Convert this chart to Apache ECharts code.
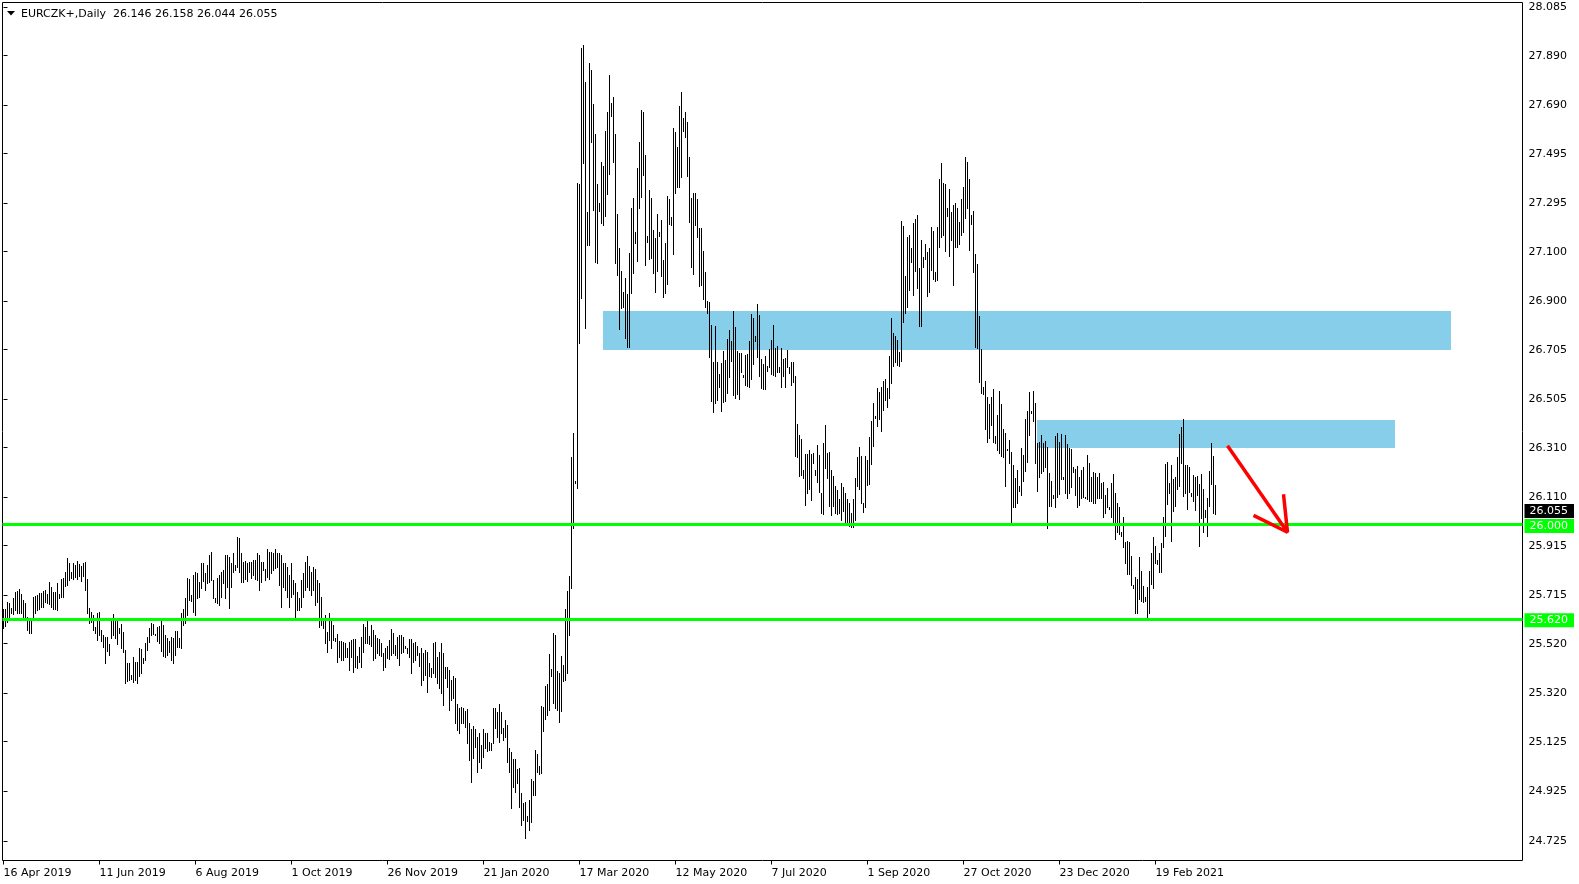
<!DOCTYPE html>
<html><head><meta charset="utf-8">
<script src="https://cdn.jsdelivr.net/npm/echarts@6/dist/echarts.min.js"></script>
<style>html,body{margin:0;padding:0;background:#fff}#c{width:1579px;height:884px}</style>
</head><body><div id="c"></div>
<script>
const symbolTitle = 'EURCZK+,Daily';
const lastOHLC = [26.146, 26.158, 26.044, 26.055];
const dateLabels = ['16 Apr 2019','11 Jun 2019','6 Aug 2019','1 Oct 2019','26 Nov 2019','21 Jan 2020','17 Mar 2020','12 May 2020','7 Jul 2020','1 Sep 2020','27 Oct 2020','23 Dec 2020','19 Feb 2021'];
const dateLabelBars = [0,48,96,144,192,240,288,336,384,432,480,528,576];
const priceTicks = [28.085,27.890,27.690,27.495,27.295,27.100,26.900,26.705,26.505,26.310,26.110,25.915,25.715,25.520,25.320,25.125,24.925,24.725];

const highs = [
25.658,25.658,25.689,25.685,25.662,25.705,25.730,25.734,25.740,25.720,
25.696,25.683,25.629,25.622,25.622,25.707,25.712,25.716,25.723,25.725,
25.734,25.736,25.720,25.769,25.750,25.730,25.730,25.763,25.720,25.779,
25.783,25.810,25.864,25.847,25.810,25.844,25.837,25.855,25.841,25.833,
25.847,25.851,25.779,25.662,25.649,25.636,25.586,25.642,25.649,25.575,
25.555,25.548,25.548,25.519,25.615,25.638,25.615,25.618,25.582,25.598,
25.568,25.495,25.443,25.441,25.394,25.468,25.447,25.447,25.501,25.497,
25.461,25.521,25.548,25.582,25.605,25.599,25.559,25.589,25.591,25.611,
25.595,25.555,25.541,25.532,25.548,25.541,25.572,25.572,25.541,25.642,
25.658,25.703,25.783,25.779,25.716,25.797,25.810,25.804,25.770,25.844,
25.844,25.804,25.837,25.877,25.891,25.777,25.703,25.783,25.797,25.810,
25.817,25.877,25.877,25.871,25.844,25.884,25.837,25.951,25.945,25.884,
25.851,25.855,25.844,25.851,25.851,25.857,25.857,25.887,25.877,25.851,
25.851,25.820,25.900,25.891,25.891,25.887,25.900,25.887,25.884,25.877,
25.844,25.844,25.830,25.797,25.844,25.777,25.766,25.730,25.703,
25.777,25.804,25.851,25.874,25.833,25.810,25.831,25.820,25.777,25.766,
25.710,25.616,25.636,25.569,25.645,25.616,25.595,25.542,25.559,25.532,
25.532,25.528,25.521,25.501,25.528,25.535,25.538,25.538,25.470,25.508,
25.548,25.599,25.586,25.616,25.551,25.595,25.575,25.555,25.542,25.538,
25.524,25.481,25.501,25.511,25.535,25.578,25.564,25.515,25.548,25.555,
25.555,25.548,25.511,25.501,25.538,25.538,25.521,25.525,25.511,25.481,
25.501,25.481,25.495,25.488,25.441,25.422,25.521,25.528,25.468,25.486,
25.521,25.481,25.425,25.427,25.414,25.374,25.390,25.382,25.277,25.260,
25.266,25.262,25.250,25.255,25.199,25.175,25.188,25.175,25.145,25.159,
25.112,25.175,25.159,25.159,25.125,25.121,25.260,
25.259,25.246,25.277,25.246,25.179,25.212,25.192,25.098,25.085,25.054,
25.054,25.013,25.017,24.917,24.879,24.883,24.825,24.890,24.973,24.967,
25.091,25.075,25.027,25.269,25.266,25.349,25.357,25.478,25.417,25.562,
25.555,25.411,25.403,25.470,25.434,25.658,25.734,25.793,26.274,26.371,26.176,
27.375,27.373,27.920,27.933,27.785,27.261,27.862,27.832,27.695,27.574,
27.373,27.298,27.463,27.445,27.588,27.664,27.812,27.701,27.725,27.574,
27.252,27.114,27.023,26.939,26.993,26.929,27.093,27.275,27.315,27.181,
27.436,27.543,27.671,27.664,27.490,27.163,27.349,27.315,27.187,27.154,
27.252,27.181,27.228,27.066,27.134,27.325,27.311,27.238,27.597,27.584,
27.523,27.687,27.745,27.638,27.664,27.624,27.483,27.315,27.335,27.338,
27.311,27.194,27.194,27.104,27.019,26.903,26.899,
26.804,26.657,26.800,26.657,26.607,26.650,26.701,26.663,26.747,26.784,
26.741,26.862,26.795,26.701,26.693,26.690,26.603,26.683,26.688,26.741,
26.849,26.833,26.760,26.889,26.845,26.666,26.647,26.680,26.639,26.706,
26.744,26.804,26.710,26.720,26.634,26.710,26.666,26.670,26.704,26.636,
26.657,26.657,26.599,26.405,26.361,26.344,26.220,26.284,26.284,26.301,
26.284,26.287,26.220,26.321,26.280,26.129,26.327,26.401,26.290,26.294,
26.220,26.196,26.155,26.139,26.102,26.169,26.150,26.129,26.102,26.086,
26.045,26.102,26.186,26.271,26.314,26.277,26.088,26.277,26.260,26.354,
26.419,26.491,26.438,26.549,26.536,
26.553,26.580,26.585,26.549,26.679,26.831,26.773,26.760,26.744,26.697,
27.225,27.203,27.002,27.158,27.167,27.113,27.217,27.230,27.248,27.033,
27.147,27.077,27.131,27.100,27.113,27.198,27.185,27.019,27.198,27.392,
27.459,27.378,27.373,27.275,27.351,27.261,27.288,27.297,27.275,27.221,
27.311,27.362,27.483,27.463,27.392,27.248,27.265,27.091,27.050,26.841,
26.706,26.553,26.580,26.516,26.486,26.516,26.545,26.357,26.442,26.540,
26.486,26.384,26.368,26.303,26.341,
26.294,26.240,26.186,26.220,26.156,26.307,26.280,26.424,26.459,26.534,
26.458,26.538,26.491,26.330,26.334,26.361,26.330,26.338,26.311,26.209,
26.177,26.119,26.357,26.371,26.334,26.365,26.190,26.361,26.325,26.307,
26.303,26.231,26.223,26.236,26.193,26.220,26.231,26.113,26.280,26.247,
26.193,26.213,26.209,26.190,26.207,26.169,26.173,26.119,26.146,26.070,
26.169,26.204,26.129,26.088,26.072,25.971,26.029,25.931,25.935,25.931,
25.873,25.757,25.790,25.779,25.871,25.814,25.752,25.707,25.747,25.814,
25.887,25.951,25.914,25.857,25.887,25.927,26.032,26.244,26.254,26.169,
26.240,26.182,26.190,26.271,26.365,26.395,26.424,26.240,26.240,26.233,
26.129,26.200,26.193,26.196,26.164,26.204,26.142,26.059,26.106,26.217,
26.330,26.276,26.158
];

const lows = [
25.582,25.591,25.609,25.629,25.642,25.638,25.656,25.645,25.645,25.642,
25.622,25.629,25.575,25.562,25.562,25.615,25.645,25.656,25.658,25.666,
25.666,25.689,25.685,25.680,25.666,25.658,25.658,25.656,25.703,25.707,
25.709,25.752,25.757,25.777,25.783,25.779,25.790,25.779,25.793,25.774,
25.793,25.736,25.645,25.602,25.609,25.575,25.562,25.535,25.555,25.532,
25.505,25.441,25.492,25.474,25.541,25.555,25.541,25.519,25.562,25.501,
25.488,25.363,25.371,25.374,25.376,25.367,25.374,25.360,25.390,25.403,
25.443,25.454,25.495,25.528,25.555,25.559,25.555,25.532,25.524,25.492,
25.470,25.468,25.474,25.488,25.454,25.441,25.474,25.508,25.505,25.501,
25.595,25.602,25.636,25.696,25.693,25.649,25.636,25.703,25.709,25.743,
25.774,25.736,25.763,25.770,25.777,25.703,25.689,25.683,25.676,25.709,
25.763,25.703,25.750,25.662,25.750,25.810,25.817,25.830,25.810,25.770,
25.770,25.779,25.774,25.810,25.783,25.797,25.779,25.777,25.736,25.770,
25.817,25.777,25.790,25.779,25.804,25.817,25.824,25.830,25.757,25.669,
25.750,25.736,25.709,25.669,25.707,25.720,25.622,25.656,25.656,
25.669,25.710,25.736,25.750,25.736,25.716,25.736,25.676,25.689,25.589,
25.595,25.582,25.524,25.488,25.535,25.501,25.535,25.532,25.448,25.468,
25.454,25.454,25.468,25.468,25.414,25.468,25.407,25.427,25.421,25.448,
25.425,25.488,25.521,25.521,25.519,25.511,25.454,25.461,25.481,25.474,
25.470,25.414,25.425,25.461,25.457,25.474,25.481,25.474,25.461,25.434,
25.481,25.488,25.501,25.481,25.468,25.400,25.448,25.454,25.474,25.430,
25.354,25.374,25.394,25.327,25.390,25.384,25.400,25.387,25.360,25.340,
25.320,25.273,25.380,25.347,25.253,25.293,25.300,25.202,25.172,25.159,
25.202,25.199,25.186,25.121,25.051,24.964,25.058,25.105,25.004,25.045,
25.018,25.065,25.098,25.089,25.092,25.092,25.121,
25.179,25.145,25.125,25.159,25.132,25.145,25.044,25.004,24.856,24.944,
24.923,24.960,24.863,24.789,24.809,24.735,24.807,24.769,24.803,24.910,
24.910,25.004,24.995,24.997,25.169,25.215,25.233,25.253,25.390,25.280,
25.259,25.253,25.206,25.250,25.371,25.374,25.403,25.555,25.743,25.988,26.166,
26.149,26.731,26.915,27.459,26.794,27.127,27.127,27.543,27.268,27.060,
27.053,27.265,27.217,27.208,27.244,27.332,27.413,27.647,27.463,27.056,
27.006,26.787,26.872,26.878,26.751,26.717,26.714,26.932,27.015,27.134,
27.064,27.275,27.319,27.409,27.046,27.140,27.069,27.073,27.015,26.939,
27.023,27.163,27.002,26.916,26.935,26.970,27.212,27.208,27.091,27.338,
27.362,27.362,27.402,27.588,27.561,27.405,27.221,27.040,27.010,27.208,
27.161,26.962,26.966,26.908,26.876,26.854,26.676,
26.499,26.455,26.491,26.502,26.556,26.459,26.495,26.499,26.529,26.593,
26.661,26.522,26.509,26.526,26.505,26.615,26.593,26.563,26.559,26.556,
26.585,26.647,26.741,26.677,26.599,26.549,26.545,26.545,26.620,26.634,
26.607,26.603,26.599,26.616,26.616,26.556,26.599,26.556,26.634,26.612,
26.563,26.576,26.276,26.271,26.196,26.200,26.186,26.079,26.126,26.142,
26.099,26.247,26.200,26.173,26.133,26.048,26.043,26.227,26.186,26.075,
26.039,26.075,26.048,26.043,26.048,26.018,26.056,26.008,26.005,25.994,
25.989,25.989,26.018,26.155,26.142,26.088,26.052,26.072,26.160,26.164,
26.244,26.317,26.428,26.397,26.424,
26.378,26.462,26.502,26.475,26.509,26.572,26.639,26.657,26.643,26.639,
26.661,26.818,26.851,26.878,26.946,27.060,26.925,27.023,26.952,26.800,
26.800,27.037,27.069,26.921,26.939,27.026,26.988,26.983,26.986,27.120,
27.158,27.167,27.104,27.244,27.083,27.147,26.966,27.117,27.117,27.131,
27.167,27.181,27.234,27.275,27.107,27.212,27.019,26.717,26.710,26.576,
26.532,26.526,26.384,26.334,26.348,26.401,26.334,26.327,26.301,26.287,
26.276,26.271,26.155,26.300,26.247,
25.998,26.070,26.070,26.088,26.137,26.119,26.177,26.217,26.254,26.361,
26.451,26.419,26.250,26.137,26.193,26.209,26.217,26.231,25.985,26.075,
26.075,26.106,26.070,26.113,26.123,26.182,26.182,26.126,26.106,26.129,
26.150,26.213,26.119,26.070,26.079,26.106,26.110,26.106,26.102,26.096,
26.096,26.086,26.088,26.106,26.106,26.106,26.032,26.045,26.070,26.061,
26.029,26.002,25.941,25.971,25.962,25.954,25.911,25.846,25.801,25.801,
25.757,25.743,25.645,25.645,25.699,25.693,25.689,25.693,25.622,25.645,
25.761,25.743,25.846,25.841,25.810,25.810,25.911,25.954,26.083,26.126,
25.935,26.056,26.075,26.142,26.155,26.250,26.115,26.129,26.061,26.133,
26.115,26.096,26.059,26.119,25.914,26.025,25.971,26.029,25.954,26.075,
26.164,26.048,26.044
];

const levels = [26.000, 25.620];
const lastPrice = 26.055;
// zones: [startBar, endBar, lowPrice, highPrice]
const zones = [[300, 724, 26.705, 26.861], [517, 696, 26.310, 26.422]];
const arrowShaft = [[612, 26.318], [642, 25.969]];
const arrowHead = [[625, 26.037], [642, 25.969], [640, 26.122]];

const FONT = 'DejaVu Sans';
const barData = highs.map((h, i) => [i, h, lows[i]]);

const chart = echarts.init(document.getElementById('c'), null, {renderer: 'canvas'});
const labelStyle = (bg, val, dy) => ({
  show: true, position: 'end', distance: 2, offset: [0, dy],
  formatter: () => val.toFixed(3),
  color: '#fff', backgroundColor: bg, padding: [2, 6, 0, 5],
  fontFamily: FONT, fontSize: 11, lineHeight: 12
});

chart.setOption({
  animation: false,
  backgroundColor: '#fff',
  grid: {left: 2.5, right: 56.5, top: 2.5, bottom: 23.5, show: true, borderColor: '#000', borderWidth: 1, backgroundColor: 'transparent'},
  xAxis: {
    type: 'value', min: -0.5, max: 759.5,
    axisLine: {show: false}, splitLine: {show: false},
    axisTick: {show: true, customValues: dateLabelBars, length: 4, lineStyle: {color: '#000'}},
    axisLabel: {customValues: dateLabelBars, formatter: v => dateLabels[dateLabelBars.indexOf(Math.round(v))] || '',
      align: 'left', margin: 7, color: '#000', fontFamily: FONT, fontSize: 11}
  },
  yAxis: {
    type: 'value', position: 'right', min: 24.646, max: 28.1043, scale: true,
    axisLine: {show: false}, splitLine: {show: false},
    axisTick: {show: true, customValues: priceTicks, length: 4, lineStyle: {color: '#000'}},
    axisLabel: {customValues: priceTicks, formatter: v => Number(v).toFixed(3), margin: 6, padding: [5, 0, 0, 0],
      color: '#000', fontFamily: FONT, fontSize: 11}
  },
  graphic: [
    {type: 'polygon', shape: {points: [[7, 11], [15, 11], [11, 15.5]]}, style: {fill: '#000'}},
    {type: 'text', x: 21, y: 14.5, style: {text: symbolTitle + '  ' + lastOHLC.map(v => v.toFixed(3)).join(' '),
      fill: '#000', fontFamily: FONT, fontSize: 11, verticalAlign: 'middle'}}
  ],
  series: [
    {
      type: 'custom', name: 'zones', z: 1, silent: true, clip: true,
      data: zones, encode: {x: [0, 1], y: [2, 3]},
      renderItem: (params, api) => {
        const p1 = api.coord([api.value(0), api.value(3)]);
        const p2 = api.coord([api.value(1), api.value(2)]);
        const x1 = Math.floor(p1[0]), x2 = Math.floor(p2[0]);
        const y1 = Math.round(p1[1]), y2 = Math.round(p2[1]);
        return {type: 'rect', shape: {x: x1, y: y1, width: x2 - x1, height: y2 - y1}, style: {fill: '#87CEEB'}};
      }
    },
    {
      type: 'custom', name: 'EURCZK', z: 3, silent: true,
      data: barData, encode: {x: 0, y: [1, 2]},
      renderItem: (params, api) => {
        const t = api.coord([api.value(0), api.value(1)]);
        const b = api.coord([api.value(0), api.value(2)]);
        const x = Math.round(t[0] - 0.5) + 0.5;
        const y1 = Math.round(t[1]);
        let y2 = Math.round(b[1]) + 1;
        if (y2 - y1 < 1) y2 = y1 + 1;
        return {type: 'line', shape: {x1: x, y1: y1, x2: x, y2: y2}, style: {stroke: '#000', lineWidth: 1}};
      },
      markLine: {
        silent: true, symbol: 'none', z: 5, animation: false, precision: 3,
        data: [
          {yAxis: levels[0], lineStyle: {color: '#00ff00', width: 3, type: 'solid'}, label: labelStyle('#00ff00', levels[0], 1.5)},
          {yAxis: levels[1], lineStyle: {color: '#00ff00', width: 3, type: 'solid'}, label: labelStyle('#00ff00', levels[1], 1.5)},
          {yAxis: lastPrice, lineStyle: {color: 'rgba(0,0,0,0)', width: 1, type: 'solid'}, label: labelStyle('#000000', lastPrice, 0)}
        ]
      }
    },
    {type: 'line', name: 'arrow', z: 6, silent: true, data: arrowShaft, symbol: 'none', lineStyle: {color: '#ff0000', width: 3.5}},
    {type: 'line', name: 'arrowHead', z: 6, silent: true, data: arrowHead, symbol: 'none', lineStyle: {color: '#ff0000', width: 3.5}}
  ]
});
</script>
</body></html>
